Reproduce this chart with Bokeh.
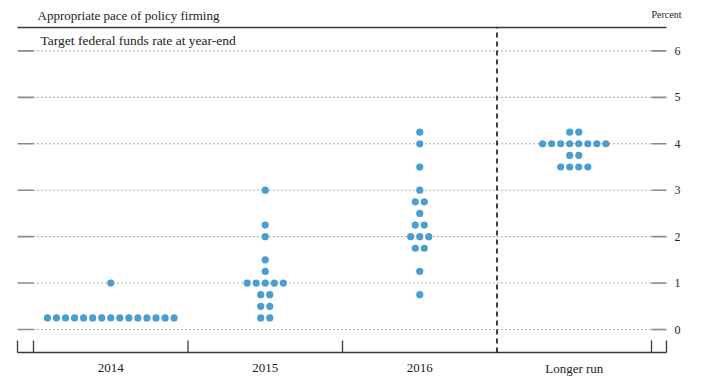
from bokeh.plotting import figure
from bokeh.models import Range1d, Label
from bokeh.core.properties import value
from bokeh.embed import file_html
from bokeh.resources import INLINE

# ---- data ----
categories = ["2014", "2015", "2016", "Longer run"]
rates_2014 = [0.25, 1.00]
counts_2014 = [15, 1]
rates_2015 = [0.25, 0.50, 0.75, 1.00, 1.25, 1.50, 2.00, 2.25, 3.00]
counts_2015 = [2, 2, 2, 5, 1, 1, 1, 1, 1]
rates_2016 = [0.75, 1.25, 1.75, 2.00, 2.25, 2.50, 2.75, 3.00, 3.50, 4.00, 4.25]
counts_2016 = [1, 1, 2, 3, 2, 1, 2, 1, 1, 1, 1]
rates_lr = [3.50, 3.75, 4.00, 4.25]
counts_lr = [4, 2, 8, 2]
y_ticks = [0, 1, 2, 3, 4, 5, 6]
y_tick_labels = ["0", "1", "2", "3", "4", "5", "6"]

title_text = "Appropriate pace of policy firming"
subtitle_text = "Target federal funds rate at year-end"
unit_text = "Percent"

# ---- layout constants (canvas pixels) ----
W, H = 701, 389
PX_X = 154.5   # pixels per category
PX_Y = 46.43   # pixels per percent
X0_PX = 33.0   # pixel of category axis start
Y0_PX = 329.0  # pixel of 0 percent


def px_x(px):
    return (px - X0_PX) / PX_X


def px_y(py):
    return (Y0_PX - py) / PX_Y


DOT_COLOR = "#4a9fd0"
LINE_COLOR = "#3a3a3a"
TEXT_COLOR = "#222222"
FONT = "Liberation Serif"

p = figure(width=W, height=H, output_backend="svg", toolbar_location=None,
           x_range=Range1d(px_x(0), px_x(W)), y_range=Range1d(px_y(H), px_y(0)),
           x_axis_location=None, y_axis_location=None,
           min_border_left=0, min_border_right=0, min_border_top=0, min_border_bottom=0)
p.outline_line_color = None
p.grid.visible = False
p.background_fill_color = "white"
p.border_fill_color = "white"

n_cat = len(categories)
xl, xr = px_x(17), px_x(666)
y_top, y_bot = px_y(27), px_y(352)

# gridlines: dotted within the categories, short solid stubs at both sides
p.segment(x0=[0] * len(y_ticks), y0=y_ticks, x1=[n_cat] * len(y_ticks), y1=y_ticks,
          line_color="#555555", line_width=1, line_dash="1 3")
p.segment(x0=[xl] * len(y_ticks), y0=y_ticks, x1=[0] * len(y_ticks), y1=y_ticks,
          line_color="#8a8a8a", line_width=1.6)
p.segment(x0=[n_cat] * len(y_ticks), y0=y_ticks, x1=[xr] * len(y_ticks), y1=y_ticks,
          line_color="#8a8a8a", line_width=1.6)

# top and bottom rules
p.segment(x0=[xl, xl], y0=[y_top, y_bot], x1=[xr, xr], y1=[y_top, y_bot],
          line_color=LINE_COLOR, line_width=1.3)

# bottom tick marks
tick_x = [xl, 0, 1, 2, 4, xr]
tick_len = 12 / PX_Y
p.segment(x0=tick_x, y0=[y_bot] * len(tick_x), x1=tick_x, y1=[y_bot + tick_len] * len(tick_x),
          line_color=LINE_COLOR, line_width=1.3)

# dashed separator before longer run
p.segment(x0=[3], y0=[y_bot], x1=[3], y1=[y_top], line_color="#111111", line_width=1.6,
          line_dash="5 4")

# dots
spacing = 9.05 / PX_X
xs, ys = [], []
for ci, (rates, counts) in enumerate([(rates_2014, counts_2014), (rates_2015, counts_2015),
                                      (rates_2016, counts_2016), (rates_lr, counts_lr)]):
    center = ci + 0.5
    for r, n in zip(rates, counts):
        for k in range(n):
            xs.append(center + (k - (n - 1) / 2) * spacing)
            ys.append(r)
p.scatter(x=xs, y=ys, size=7.2, fill_color=DOT_COLOR, line_color=None)

# tick labels
p.text(x=[px_x(674)] * len(y_ticks), y=y_ticks, text=y_tick_labels,
       text_font=value(FONT), text_font_size="12px", text_color=TEXT_COLOR,
       text_align="left", text_baseline="middle")
cat_pos = [i + 0.5 for i in range(n_cat)]
p.text(x=cat_pos, y=[px_y(367.5)] * n_cat, text=categories,
       text_font=value(FONT), text_font_size="13px", text_color=TEXT_COLOR,
       text_align="center", text_baseline="middle")

# texts
p.add_layout(Label(x=px_x(37), y=px_y(15), text=title_text, text_font=FONT,
                   text_font_size="13px", text_color=TEXT_COLOR, text_baseline="middle"))
p.add_layout(Label(x=px_x(40), y=px_y(40), text=subtitle_text, text_font=FONT,
                   text_font_size="13.5px", text_color=TEXT_COLOR, text_baseline="middle"))
p.add_layout(Label(x=px_x(681), y=px_y(14), text=unit_text, text_font=FONT,
                   text_font_size="10px", text_color=TEXT_COLOR, text_baseline="middle",
                   text_align="right"))

open("out.html", "w").write(file_html(p, INLINE))
